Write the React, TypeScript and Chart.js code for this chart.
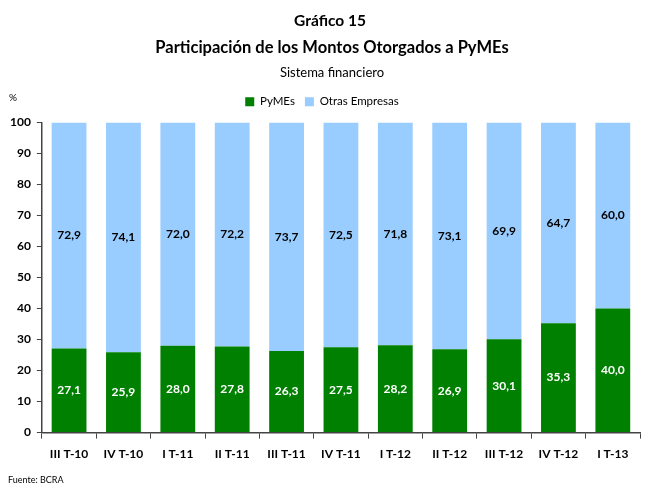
import React, { useEffect, useRef } from "react";
import { Chart, registerables } from "chart.js";
Chart.register(...registerables);

const categories = ["III T-10", "IV T-10", "I T-11", "II T-11", "III T-11", "IV T-11", "I T-12", "II T-12", "III T-12", "IV T-12", "I T-13"];
const pymes = [27.1, 25.9, 28.0, 27.8, 26.3, 27.5, 28.2, 26.9, 30.1, 35.3, 40.0];
const otras = [72.9, 74.1, 72.0, 72.2, 73.7, 72.5, 71.8, 73.1, 69.9, 64.7, 60.0];
const yTicks = [0, 10, 20, 30, 40, 50, 60, 70, 80, 90, 100];

const FONT = "Lato, 'DejaVu Sans', sans-serif";

const legendSpacer = {
  id: "legendSpacer",
  beforeInit(chart: any) {
    const lg = chart.legend;
    if (!lg) return;
    const orig = lg.fit;
    lg.fit = function () {
      orig.call(this);
      this.height += 5;
    };
  },
};

const textPlugin = {
  id: "texts",
  afterDraw(chart: any) {
    const ctx = chart.ctx;
    ctx.save();
    ctx.fillStyle = "#000";
    ctx.textAlign = "center";
    ctx.textBaseline = "middle";
    ctx.font = `bold 15.5px ${FONT}`;
    ctx.fillText("Gráfico 15", 330, 21);
    ctx.font = `bold 16.5px ${FONT}`;
    ctx.fillText("Participación de los Montos Otorgados a PyMEs", 332, 48);
    ctx.font = `13px ${FONT}`;
    ctx.fillText("Sistema financiero", 332, 73);
    ctx.textAlign = "left";
    ctx.font = `10px ${FONT}`;
    ctx.fillText("%", 9, 98);
    ctx.font = `9px ${FONT}`;
    ctx.fillText("Fuente: BCRA", 8, 480);
    ctx.textAlign = "center";
    ctx.font = `bold 12px ${FONT}`;
    chart.data.datasets.forEach((ds: any, di: number) => {
      const meta = chart.getDatasetMeta(di);
      meta.data.forEach((bar: any, i: number) => {
        const v = ds.data[i];
        ctx.fillStyle = di === 0 ? "#fff" : "#000";
        ctx.fillText(v.toFixed(1).replace(".", ","), bar.x, (bar.y + bar.base) / 2);
      });
    });
    ctx.restore();
  },
};

export default function App() {
  const ref = useRef<HTMLCanvasElement>(null);
  useEffect(() => {
    const chart = new Chart(ref.current!, {
      type: "bar",
      data: {
        labels: categories,
        datasets: [
          { label: "PyMEs", data: pymes, backgroundColor: "#008000", barPercentage: 0.64, categoryPercentage: 1 },
          { label: "Otras Empresas", data: otras, backgroundColor: "#99CCFF", barPercentage: 0.64, categoryPercentage: 1 },
        ],
      },
      options: {
        responsive: false,
        animation: false,
        layout: { padding: { top: 86, left: 4, right: 8, bottom: 15 } },
        plugins: {
          tooltip: { enabled: false },
          title: { display: false },
          legend: {
            position: "top",
            labels: {
              boxWidth: 9,
              boxHeight: 9,
              padding: 10,
              color: "#000",
              font: { family: FONT, size: 11.5 },
            },
          },
        },
        scales: {
          x: {
            stacked: true,
            border: { color: "#444", width: 1.5 },
            grid: { display: true, drawOnChartArea: false, tickLength: 6, color: "#444", offset: true },
            ticks: { color: "#000", font: { family: FONT, size: 12, weight: "bold" }, padding: 8, maxRotation: 0, autoSkip: false },
          },
          y: {
            stacked: true,
            min: 0,
            max: 100,
            afterBuildTicks: (axis: any) => { axis.ticks = yTicks.map((v) => ({ value: v })); },
            border: { color: "#444", width: 1.5 },
            grid: { display: true, drawOnChartArea: false, tickLength: 5, color: "#444" },
            ticks: { color: "#000", font: { family: FONT, size: 12, weight: "bold" }, padding: 6 },
          },
        },
      },
      plugins: [legendSpacer, textPlugin],
    } as any);
    return () => chart.destroy();
  }, []);
  return (
    <div style={{ position: "fixed", left: 0, top: 0, width: 648, height: 484, background: "#fff" }}>
      <canvas ref={ref} width={648} height={484} />
    </div>
  );
}
